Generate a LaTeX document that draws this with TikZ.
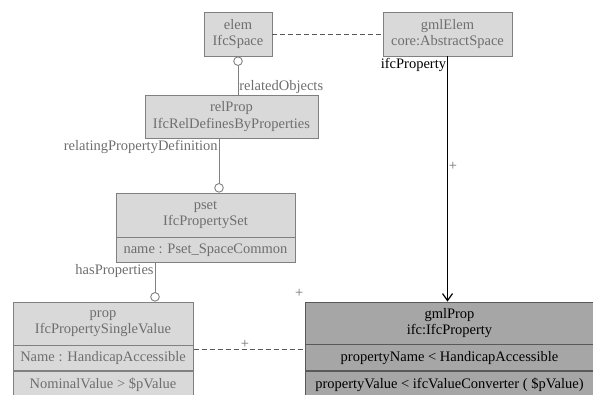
\documentclass[tikz,border=0pt]{standalone}
\usepackage{fontspec}
\setmainfont{Liberation Serif}
\usepackage{tikz}
\usetikzlibrary{%
  arrows.meta,%
  positioning,% wg. " of "
  fit%
}
\definecolor{boxfill}{HTML}{D9D9D9}
\definecolor{boxline}{HTML}{808080}
\definecolor{boxtext}{HTML}{6E6E6E}
\definecolor{gmlfill}{HTML}{A6A6A6}
\definecolor{gmlline}{HTML}{595959}

\begin{document}
\begin{tikzpicture}[x=1pt,y=-1pt, font=\fontsize{14.5}{16.5}\selectfont,
    cls/.style={draw=boxline, fill=boxfill, text=boxtext, line width=0.8pt, align=center, inner sep=0pt, minimum height=44pt},
    attr/.style={cls, minimum height=25pt},
    gml/.style={draw=gmlline, fill=gmlfill, text=black, line width=0.8pt, align=center, inner sep=0pt, minimum height=42pt},
    gmlattr/.style={gml, minimum height=26pt},
    role/.style={text=boxtext, inner sep=1pt},
    assoc/.style={draw=boxline, line width=0.8pt},
    corr/.style={draw=gmlline, line width=0.8pt, dash pattern=on 5pt off 3pt},
    ring/.tip={Circle[length=9.5pt, width=9.5pt, fill=white, line width=0.9pt]}]
    \useasboundingbox (0,0) rectangle (593,394);

    %ifc side
    \node[cls, minimum width=68pt] (elem) at (238,34) {elem\\IfcSpace};
    \node[cls, minimum width=173pt, minimum height=43pt] (relProp) at (231.5,116.5) {relProp\\IfcRelDefinesByProperties};
    \node[cls, minimum width=179pt] (psetHead) at (205.5,215) {pset\\IfcPropertySet};
    \node[attr, minimum width=179pt] (psetName) [below=0pt of psetHead] {name : Pset\_SpaceCommon};
    \node[cls, minimum width=180pt, minimum height=43pt] (propHead) at (103,323.5) {prop\\IfcPropertySingleValue};
    \node[attr, minimum width=180pt] (propName) [below=0pt of propHead] {Name : HandicapAccessible};
    \node[attr, minimum width=180pt, minimum height=26pt] (propValue) [below=0pt of propName] {NominalValue > \$pValue};
    \node[fit=(propHead)(propValue), inner sep=0pt] (prop) {};

    %gml side
    \node[cls, minimum width=129pt] (gmlElem) at (447.5,34) {gmlElem\\core:AbstractSpace};
    \node[gml, minimum width=289pt] (gmlPropHead) at (449.5,323) {gmlProp\\ifc:IfcProperty};
    \node[gmlattr, minimum width=289pt] (gmlPropName) [below=0pt of gmlPropHead] {propertyName < HandicapAccessible};
    \node[gmlattr, minimum width=289pt] (gmlPropValue) [below=0pt of gmlPropName] {propertyValue < ifcValueConverter ( \$pValue)};
    \node[fit=(gmlPropHead)(gmlPropValue), inner sep=0pt] (gmlProp) {};

    %associations
    \draw[assoc, ring-] (elem.south) -- (elem.south |- relProp.north)
      node[role, anchor=south west] {relatedObjects};
    \draw[assoc, -ring] ([xshift=-12.5pt]relProp.south) -- ([xshift=13.5pt]psetHead.north)
      node[role, anchor=north east, at start] {relatingPropertyDefinition};
    \draw[assoc, -ring] ([xshift=-50.5pt]psetName.south) -- ([xshift=52pt]propHead.north)
      node[role, anchor=north east, at start] {hasProperties};

    %mapping
    \draw[corr] (elem) -- (gmlElem);
    \draw[line width=0.9pt, -{Straight Barb[length=7pt, width=10pt, line width=1.2pt]}] (gmlElem.south) -- (gmlElem.south |- gmlPropHead.north)
      node[anchor=north east, inner sep=1pt, at start] {ifcProperty}
      node[role, right, pos=0.45] {+};
    \draw[corr] (prop) -- (gmlProp) node[role, above, midway, xshift=-4pt] {+};
    \node[role, anchor=south east] at ([yshift=3pt]gmlPropHead.north west) {+};

  \end{tikzpicture}
\end{document}
